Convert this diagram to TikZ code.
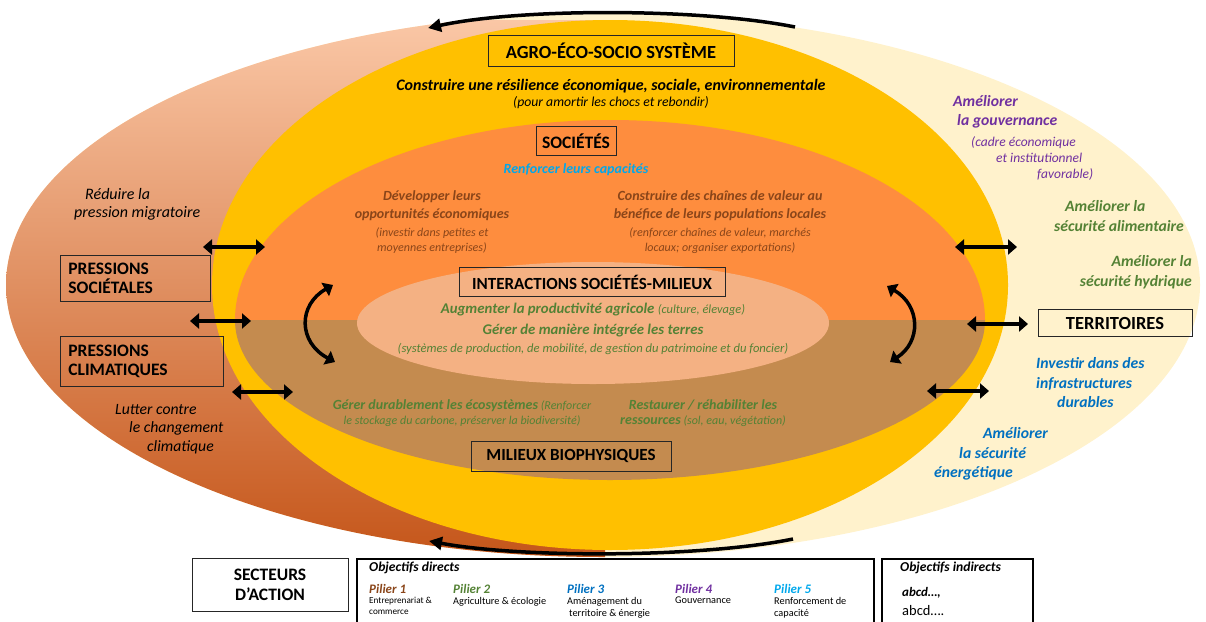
\documentclass[tikz,border=0pt]{standalone}
\usepackage{fontspec}
\setmainfont{Carlito}
\usetikzlibrary{arrows.meta, positioning}
\definecolor{cream}{HTML}{FFF2CC}
\definecolor{peach}{HTML}{FAC7A6}
\definecolor{midorange}{HTML}{F8923F}
\definecolor{rust}{HTML}{C5561A}
\definecolor{gold}{HTML}{FFC000}
\definecolor{societe}{HTML}{FE8D3E}
\definecolor{milieu}{HTML}{C48B4F}
\definecolor{interaction}{HTML}{F4B183}
\definecolor{brownt}{HTML}{8A4519}
\definecolor{greent}{HTML}{548235}
\definecolor{bluet}{HTML}{0070C0}
\definecolor{cyant}{HTML}{00A8EC}
\definecolor{purplet}{HTML}{7030A0}
\tikzset{
    boxlabel/.style={
        draw=black!85,
        line width=0.8pt,
        font=\bfseries\fontsize{17.5}{19.5}\selectfont,
        inner sep=0pt,
    },
    goal/.style={
        font=\bfseries\itshape\fontsize{14}{18}\selectfont,
        align=center,
        inner sep=0pt,
    },
    note/.style={
        font=\itshape\fontsize{12}{15}\selectfont,
        align=center,
        inner sep=0pt,
    },
    sidegoal/.style={
        font=\bfseries\itshape\fontsize{15.7}{19.5}\selectfont,
        align=left,
        inner sep=0pt,
    },
    legendframe/.style={
        draw=black,
        line width=1.6pt,
        inner sep=0pt,
    },
    pillar/.style={
        font=\bfseries\itshape\fontsize{13}{15}\selectfont,
        anchor=west,
        inner sep=0pt,
    },
    pillartext/.style={
        font=\fontsize{10.3}{12}\selectfont,
        align=left,
        anchor=north west,
        inner sep=0pt,
    },
    twoway/.style={
        line width=4.5pt,
        {Triangle[length=9pt,width=15pt]}-{Triangle[length=9pt,width=15pt]},
    },
    oneway/.style={
        line width=3.5pt,
        -{Triangle[length=13pt,width=13pt]},
    },
}

\begin{document}
\begin{tikzpicture}[x=1pt, y=-1pt]
      \useasboundingbox (0,0) rectangle (1206,621);

      % outer shape: pressures (left) and territories (right)
      \fill[cream] (603,285) ellipse [x radius=597, y radius=272];
      \begin{scope}
        \clip (0,0) rectangle (605,621);
        \clip (603,285) ellipse [x radius=597, y radius=272];
        \shade[top color=peach, middle color=midorange, bottom color=rust] (0,20) rectangle (605,557);
      \end{scope}

      % agro-eco-socio system
      \fill[gold] (610,285) ellipse [x radius=398, y radius=265];

      % societies (top) and biophysical environment (bottom)
      \begin{scope}
        \clip (0,0) rectangle (1206,320);
        \fill[societe] (610,320) ellipse [x radius=375, y radius=200];
      \end{scope}
      \begin{scope}
        \clip (0,320) rectangle (1206,621);
        \fill[milieu] (610,320) ellipse [x radius=375, y radius=160];
      \end{scope}

      % interactions
      \fill[interaction] (593,323) ellipse [x radius=236, y radius=61];

      \node[boxlabel, font=\bfseries\fontsize{18.5}{20}\selectfont, minimum width=246pt, minimum height=31pt] (agro) at (611,51) {AGRO-ÉCO-SOCIO SYSTÈME};
      \node[goal, font=\bfseries\itshape\fontsize{16}{18}\selectfont] (resil) at (611,86) {Construire une résilience économique, sociale, environnementale};
      \node[note, font=\itshape\fontsize{13.7}{15}\selectfont] (amortir) at (611,103) {(pour amortir les chocs et rebondir)};

      \node[boxlabel, minimum width=80pt, minimum height=29pt] (soc) at (576,141) {SOCIÉTÉS};
      \node[goal, text=cyant] (capa) at (576,170) {Renforcer leurs capacités};
      \node[goal, text=brownt] (oppo) at (432,206) {Développer leurs\\opportunités économiques};
      \node[note, text=brownt] (oppo-n) at (432,241) {(investir dans petites et\\moyennes entreprises)};
      \node[goal, text=brownt] (chain) at (720,206) {Construire des chaînes de valeur au\\bénéfice de leurs populations locales};
      \node[note, text=brownt] (chain-n) at (720,241) {(renforcer chaînes de valeur, marchés\\locaux; organiser exportations)};

      \node[boxlabel, font=\bfseries\fontsize{17}{19}\selectfont, minimum width=266pt, minimum height=29pt] (inter) at (592,282) {INTERACTIONS SOCIÉTÉS-MILIEUX};
      \node[goal, text=greent, font=\bfseries\itshape\fontsize{14.8}{18}\selectfont] (prod) at (593,310) {Augmenter la productivité agricole {\mdseries\fontsize{12.4}{15}\selectfont(culture, élevage)}};
      \node[goal, text=greent, font=\bfseries\itshape\fontsize{14.8}{18}\selectfont] (terres) at (593,331) {Gérer de manière intégrée les terres};
      \node[note, text=greent, font=\itshape\fontsize{12.6}{15}\selectfont] (terres-n) at (593,349) {(systèmes de production, de mobilité, de gestion du patrimoine et du foncier)};

      \node[note, text=greent] (eco) at (462,413) {{\bfseries\fontsize{14}{18}\selectfont Gérer durablement les écosystèmes} (Renforcer\\le stockage du carbone, préserver la biodiversité)};
      \node[note, text=greent] (resso) at (703,413) {{\bfseries\fontsize{14}{18}\selectfont Restaurer / réhabiliter les}\\{\bfseries\fontsize{14}{18}\selectfont ressources} (sol, eau, végétation)};
      \node[boxlabel, font=\bfseries\fontsize{17}{19}\selectfont, minimum width=200pt, minimum height=30pt] (milieux) at (571,456) {MILIEUX BIOPHYSIQUES};

      % pressures
      \node[note, font=\itshape\fontsize{16}{18}\selectfont, align=left, anchor=west] (migr) at (74,204) {\hspace*{11pt}Réduire la\\pression migratoire};
      \node[boxlabel, align=left, anchor=north west, minimum width=142pt, minimum height=46pt, text width=134pt, inner xsep=8pt] (psoc) at (60,255) {PRESSIONS\\SOCIÉTALES};
      \node[boxlabel, align=left, anchor=north west, minimum width=155pt, minimum height=50pt, text width=147pt, inner xsep=8pt] (pclim) at (60,336) {PRESSIONS\\CLIMATIQUES};
      \node[note, font=\itshape\fontsize{15.7}{18.5}\selectfont, align=left, anchor=west] (clim) at (115,429) {Lutter contre\\\hspace*{14pt}le changement\\\hspace*{32pt}climatique};

      % territories
      \node[sidegoal, text=purplet, anchor=west] (gouv) at (953,112) {Améliorer\\\hspace*{4pt}la gouvernance};
      \node[note, text=purplet, font=\itshape\fontsize{13.5}{16}\selectfont, align=left, anchor=west] (gouv-n) at (971,158) {(cadre économique\\\hspace*{25pt}et institutionnel\\\hspace*{66pt}favorable)};
      \node[sidegoal, text=greent, anchor=west] (alim) at (1054,216) {\hspace*{11pt}Améliorer la\\sécurité alimentaire};
      \node[sidegoal, text=greent, align=right, anchor=east] (hydr) at (1192,272) {Améliorer la\\sécurité hydrique};
      \node[boxlabel, font=\bfseries\fontsize{18.5}{20}\selectfont, minimum width=154pt, minimum height=27pt] (terr) at (1115,323) {TERRITOIRES};
      \node[sidegoal, text=bluet, anchor=west] (infra) at (1036,383) {Investir dans des\\infrastructures\\\hspace*{21pt}durables};
      \node[sidegoal, text=bluet, anchor=west] (ener) at (934,454) {\hspace*{49pt}Améliorer\\\hspace*{25pt}la sécurité\\énergétique};

      % exchange arrows
      \coordinate (wa1) at (203,247);  \coordinate (wb1) at (265,247);
      \coordinate (wa2) at (190,321);  \coordinate (wb2) at (251,321);
      \coordinate (wa3) at (232,392);  \coordinate (wb3) at (293,392);
      \coordinate (ea1) at (955,247);  \coordinate (eb1) at (1017,247);
      \coordinate (ea2) at (967,324);  \coordinate (eb2) at (1028,324);
      \coordinate (ea3) at (927,391);  \coordinate (eb3) at (989,391);
      \draw[twoway] (wa1) -- (wb1);
      \draw[twoway] (wa2) -- (wb2);
      \draw[twoway] (wa3) -- (wb3);
      \draw[twoway] (ea1) -- (eb1);
      \draw[twoway] (ea2) -- (eb2);
      \draw[twoway] (ea3) -- (eb3);

      % societies <-> environment
      \coordinate (lt) at (333,285);  \coordinate (lb) at (335,362);
      \coordinate (rt) at (887,286);  \coordinate (rb) at (890,362);
      \draw[twoway, line width=3.5pt] (lt) .. controls (298,305) and (298,342) .. (lb);
      \draw[twoway, line width=3.5pt] (rt) .. controls (921,306) and (921,342) .. (rb);

      % cycle round the system
      \coordinate (topr) at (795,27);  \coordinate (topl) at (428,28);
      \coordinate (botr) at (793,539); \coordinate (botl) at (429,541);
      \draw[oneway] (topr) .. controls (700,8) and (520,8) .. (topl);
      \draw[oneway] (botr) .. controls (700,558) and (520,558) .. (botl);

      % legend
      \node[boxlabel, align=center, minimum width=156pt, minimum height=53pt] (secteurs) at (270,585) {SECTEURS\\D’ACTION};
      \node[legendframe, anchor=north west, minimum width=517pt, minimum height=80pt] (direct) at (356,558) {};
      \node[pillar, font=\bfseries\itshape\fontsize{13.6}{15}\selectfont] (direct-t) at (369,568) {Objectifs directs};
      \node[pillar, text=brownt] (p1) at (369,589) {Pilier 1};
      \node[pillartext, font=\fontsize{9.2}{11}\selectfont] (p1-t) at (369,597) {Entreprenariat \&\\commerce};
      \node[pillar, text=greent] (p2) at (453,589) {Pilier 2};
      \node[pillartext] (p2-t) at (453,597) {Agriculture \& écologie};
      \node[pillar, text=bluet] (p3) at (567,589) {Pilier 3};
      \node[pillartext] (p3-t) at (567,597) {Aménagement du\\\hspace*{2pt}territoire \& énergie};
      \node[pillar, text=purplet] (p4) at (675,589) {Pilier 4};
      \node[pillartext] (p4-t) at (675,597) {Gouvernance};
      \node[pillar, text=cyant] (p5) at (774,589) {Pilier 5};
      \node[pillartext] (p5-t) at (774,597) {Renforcement de\\capacité};
      \node[legendframe, anchor=north west, minimum width=151pt, minimum height=80pt] (indirect) at (881,558) {};
      \node[pillar, font=\bfseries\itshape\fontsize{13.6}{15}\selectfont] (indirect-t) at (900,568) {Objectifs indirects};
      \node[pillar, font=\bfseries\itshape\fontsize{13}{15}\selectfont] (abcd1) at (902,593) {abcd…,};
      \node[pillar, font=\fontsize{14.5}{16}\selectfont] (abcd2) at (902,611) {abcd….};

    \end{tikzpicture}
\end{document}
